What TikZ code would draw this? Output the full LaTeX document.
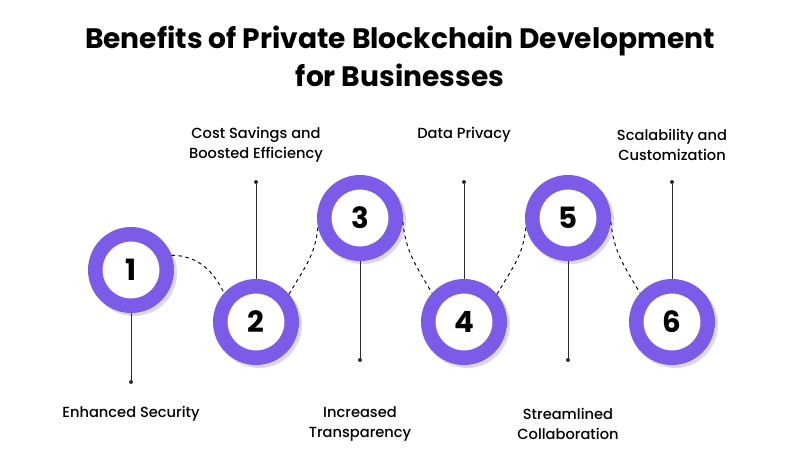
\documentclass[tikz,border=0pt]{standalone}
\usepackage{fontspec}
\setmainfont{Poppins}
\newfontfamily\medfont{Poppins Medium}
\usetikzlibrary{arrows.meta}
\definecolor{ringpurple}{HTML}{7B5BE8}
\definecolor{ringshadow}{HTML}{DCD9EA}
\definecolor{stemgray}{HTML}{2E2E2E}

\begin{document}
\begin{tikzpicture}[x=0.03cm,y=0.03cm,
    ring/.style={circle,draw=ringpurple,fill=white,line width=4.35mm,minimum size=21.45mm,inner sep=0pt,font=\bfseries\fontsize{25}{25}\selectfont},
    benefit/.style={align=center,font=\medfont\fontsize{12.5}{17}\selectfont},
    link/.style={dashed,thick,black},
    stem/.style={stemgray,line width=0.8pt}]
    \useasboundingbox (0,0) rectangle (800,467);
    \node[align=center,font=\bfseries\fontsize{24}{32.5}\selectfont] (title) at (400,411) {Benefits of Private Blockchain Development\\for Businesses};
    \foreach \n/\x/\y in {1/131/197, 2/256/145, 3/360/249, 4/464/145, 5/568/249, 6/672/145} {
        \fill[ringshadow] (\x+3,\y-3) circle[radius=1.29cm];
        \node[ring] (c\n) at (\x,\y) {\n};
    }
    \coordinate (d1) at (131,85);
    \coordinate (d2) at (256,285);
    \coordinate (d3) at (360,107);
    \coordinate (d4) at (464,285);
    \coordinate (d5) at (568,107);
    \coordinate (d6) at (672,285);
    \foreach \n in {1,3,5} \draw[stem] (c\n.south) -- (d\n);
    \foreach \n in {2,4,6} \draw[stem] (c\n.north) -- (d\n);
    \foreach \n in {1,...,6} \fill[stemgray] (d\n) circle[radius=0.6mm];
    \node[benefit] (l1) at (131,53) {Enhanced Security};
    \node[benefit] (l2) at (256,322) {Cost Savings and\\Boosted Efficiency};
    \node[benefit] (l3) at (360,43) {Increased\\Transparency};
    \node[benefit] (l4) at (464,332) {Data Privacy};
    \node[benefit] (l5) at (568,43) {Streamlined\\Collaboration};
    \node[benefit] (l6) at (672,322) {Scalability and\\Customization};
    \draw[link] (c1.20) to[out=0,in=115] (c2.138);
    \draw[link] (c2.40) to[out=60,in=-95] (c3.192);
    \draw[link] (c3.-5) to[out=-85,in=120] (c4.138);
    \draw[link] (c4.40) to[out=60,in=-95] (c5.192);
    \draw[link] (c5.-5) to[out=-85,in=120] (c6.138);
\end{tikzpicture}
\end{document}
